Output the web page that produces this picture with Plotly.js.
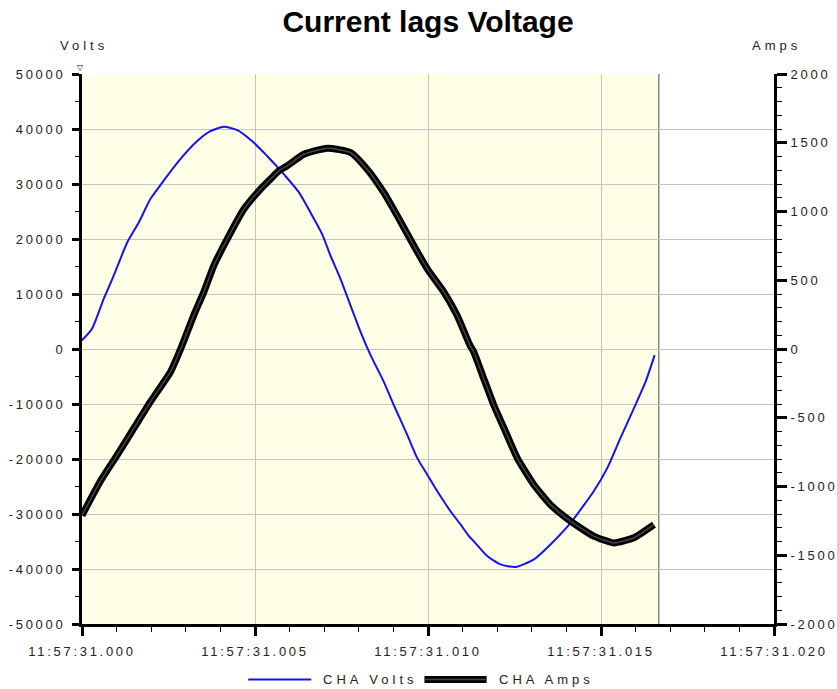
<!DOCTYPE html>
<html>
<head>
<meta charset="utf-8">
<script src="https://cdn.plot.ly/plotly-3.0.1.min.js"></script>
<style>
  html, body { margin: 0; padding: 0; background: #fff; }
  #chart { width: 837px; height: 689px; }
  .xtick text, .ytick text, .y2tick text { letter-spacing: 2.7px; }
  .annotation-text { letter-spacing: 4px; }
</style>
</head>
<body>
<div id="chart"></div>
<script>
// ---- data (time in ms after 11:57:31.000) ----
const voltTime = [0, 0.29, 0.63, 0.92, 1.31, 1.64, 1.98, 2.36, 2.80, 3.33, 3.71, 4.10, 4.49, 4.97, 5.35, 5.69, 5.83, 6.27, 6.60, 6.94, 7.18, 7.47, 7.76, 8.05, 8.34, 8.72, 9.01, 9.40, 9.69, 9.98, 10.27, 10.65, 10.94, 11.18, 11.32, 11.71, 12.10, 12.53, 13.06, 13.54, 14.12, 14.79, 15.18, 15.56, 15.95, 16.29, 16.55];
const voltValues = [1600, 3700, 9150, 13400, 19400, 23000, 27300, 30600, 34200, 37800, 39600, 40400, 39800, 37500, 35100, 32800, 31800, 28480, 24860, 20900, 17000, 12770, 7930, 3120, -1120, -5940, -10180, -15620, -19840, -22860, -25870, -29500, -31900, -34000, -34930, -37640, -39170, -39640, -38260, -35540, -31610, -25870, -21650, -16210, -10780, -5940, -1120];

const ampTime = [0, 0.53, 1.02, 1.50, 1.98, 2.56, 2.85, 3.23, 3.52, 3.81, 4.20, 4.68, 5.16, 5.45, 5.69, 5.93, 6.41, 7.09, 7.76, 8.24, 8.72, 9.11, 9.59, 9.98, 10.46, 10.84, 11.21, 11.32, 11.61, 11.90, 12.24, 12.58, 13.06, 13.54, 14.12, 14.79, 15.37, 15.95, 16.53];
const ampValues = [-1210, -962, -770, -576, -383, -165, 0, 245, 414, 607, 801, 1018, 1163, 1236, 1296, 1332, 1416, 1460, 1429, 1308, 1139, 970, 752, 583, 414, 245, 28, -20, -214, -407, -600, -793, -987, -1132, -1252, -1361, -1410, -1373, -1277];

const cycleEnd = 16.67;

const xTickVals = [0, 5, 10, 15, 20];
const xTickText = ['11:57:31.000', '11:57:31.005', '11:57:31.010', '11:57:31.015', '11:57:31.020'];
const voltTickVals = [-50000, -40000, -30000, -20000, -10000, 0, 10000, 20000, 30000, 40000, 50000];
const voltTickText = ['-50000', '-40000', '-30000', '-20000', '-10000', '0', '10000', '20000', '30000', '40000', '50000'];
const ampTickVals = [-2000, -1500, -1000, -500, 0, 500, 1000, 1500, 2000];
const ampTickText = ['-2000', '-1500', '-1000', '-500', '0', '500', '1000', '1500', '2000'];

const seriesNames = ['CHA Volts', 'CHA Amps'];
const axisNames = ['Volts', 'Amps'];
const chartTitle = 'Current lags Voltage';

// ---- chart ----
const FONT = 'Liberation Sans, Arial, sans-serif';

const traces = [
  { x: ampTime, y: ampValues, yaxis: 'y2', type: 'scatter', mode: 'lines', name: seriesNames[1],
    line: { color: '#000000', width: 7, shape: 'spline', smoothing: 0.5 }, hoverinfo: 'skip', showlegend: false },
  { x: ampTime, y: ampValues, yaxis: 'y2', type: 'scatter', mode: 'lines', name: seriesNames[1],
    line: { color: '#444444', width: 1.5, shape: 'spline', smoothing: 0.5 }, hoverinfo: 'skip', showlegend: false },
  { x: voltTime, y: voltValues, yaxis: 'y', type: 'scatter', mode: 'lines', name: seriesNames[0],
    line: { color: '#1414f0', width: 2, shape: 'spline', smoothing: 0.6 }, showlegend: false }
];

const tickFont = { family: FONT, size: 13, color: '#222' };

const legY = -0.101;
const layout = {
  width: 837, height: 689,
  margin: { l: 82, r: 63, t: 74, b: 65 },
  paper_bgcolor: '#ffffff',
  plot_bgcolor: '#ffffff',
  showlegend: false,
  title: { text: chartTitle, font: { family: FONT, size: 30, color: '#000', weight: 700 },
           x: 0.5, xref: 'paper', y: 1 - 21 / 689, yref: 'container', yanchor: 'middle' },
  xaxis: {
    range: [0, 20], tickmode: 'array', tickvals: xTickVals, ticktext: xTickText,
    showgrid: true, gridcolor: '#c4c4c4', gridwidth: 1, zeroline: false,
    showline: true, linecolor: '#000', linewidth: 3,
    ticks: 'outside', ticklen: 9, tickwidth: 3, tickcolor: '#000',
    minor: { tickmode: 'linear', tick0: 0, dtick: 1, ticks: 'outside', ticklen: 5, tickwidth: 1, tickcolor: '#000', showgrid: false },
    tickfont: tickFont, ticklabelstandoff: 4, fixedrange: true
  },
  yaxis: {
    range: [-50000, 50000], tickmode: 'array', tickvals: voltTickVals, ticktext: voltTickText,
    showgrid: true, gridcolor: '#c4c4c4', gridwidth: 1, zeroline: false,
    showline: true, linecolor: '#000', linewidth: 3,
    ticks: 'outside', ticklen: 7, tickwidth: 3, tickcolor: '#000',
    minor: { tickmode: 'linear', tick0: 0, dtick: 5000, ticks: 'outside', ticklen: 4, tickwidth: 1, tickcolor: '#000', showgrid: false },
    tickfont: tickFont, ticklabelstandoff: 4, fixedrange: true
  },
  yaxis2: {
    range: [-2000, 2000], overlaying: 'y', side: 'right', tickmode: 'array', tickvals: ampTickVals, ticktext: ampTickText,
    showgrid: false, zeroline: false,
    showline: true, linecolor: '#000', linewidth: 3,
    ticks: 'outside', ticklen: 10, tickwidth: 3, tickcolor: '#000',
    minor: { tickmode: 'linear', tick0: 0, dtick: 100, ticks: 'outside', ticklen: 5, tickwidth: 1, tickcolor: '#000', showgrid: false },
    tickfont: tickFont, ticklabelstandoff: 1, fixedrange: true
  },
  shapes: [
    { type: 'rect', xref: 'x', yref: 'paper', x0: 0, x1: cycleEnd, y0: 0, y1: 1,
      fillcolor: '#fffee6', line: { width: 0 }, layer: 'below' },
    { type: 'line', xref: 'x', yref: 'paper', x0: cycleEnd, x1: cycleEnd, y0: 0, y1: 1,
      line: { color: '#858585', width: 1.5 }, layer: 'below' },
    // manual legend samples
    { type: 'line', xref: 'paper', yref: 'paper', x0: 0.2402, x1: 0.3314, y0: legY, y1: legY,
      line: { color: '#1414f0', width: 2 } },
    { type: 'line', xref: 'paper', yref: 'paper', x0: 0.4949, x1: 0.5847, y0: legY, y1: legY,
      line: { color: '#000', width: 7 } },
    { type: 'line', xref: 'paper', yref: 'paper', x0: 0.4949, x1: 0.5847, y0: legY, y1: legY,
      line: { color: '#444444', width: 1.5 } }
  ],
  annotations: [
    { text: axisNames[0], xref: 'paper', yref: 'paper', x: 0, y: 1.0525, xshift: 2, showarrow: false,
      xanchor: 'center', yanchor: 'middle', font: { family: FONT, size: 13, color: '#222' } },
    { text: axisNames[1], xref: 'paper', yref: 'paper', x: 1, y: 1.0525, xshift: 2, showarrow: false,
      xanchor: 'center', yanchor: 'middle', font: { family: FONT, size: 13, color: '#222' } },
    { text: '\u25BD', xref: 'paper', yref: 'paper', x: 0, y: 1.012, showarrow: false,
      xanchor: 'center', yanchor: 'middle', font: { family: 'DejaVu Sans', size: 8, color: '#000' } },
    { text: seriesNames[0], xref: 'paper', yref: 'paper', x: 0.3459, y: legY, showarrow: false,
      xanchor: 'left', yanchor: 'middle', font: { family: FONT, size: 13, color: '#222' } },
    { text: seriesNames[1], xref: 'paper', yref: 'paper', x: 0.5991, y: legY, showarrow: false,
      xanchor: 'left', yanchor: 'middle', font: { family: FONT, size: 13, color: '#222' } }
  ]
};

Plotly.newPlot('chart', traces, layout, { displayModeBar: false, staticPlot: true });
</script>
</body>
</html>
